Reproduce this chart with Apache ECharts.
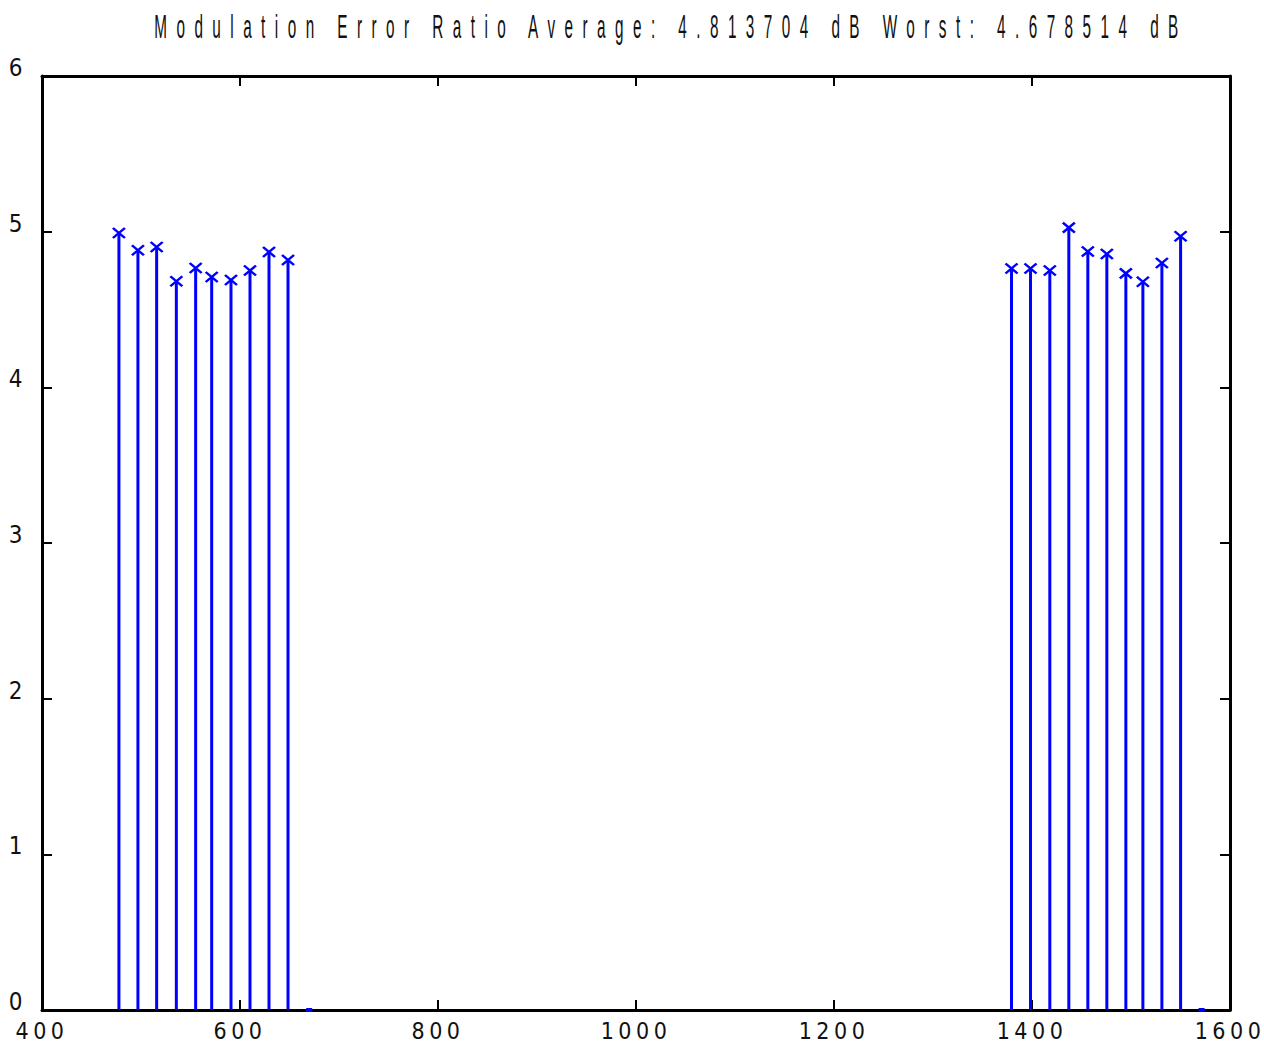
<!DOCTYPE html>
<html>
<head>
<meta charset="utf-8">
<title>Modulation Error Ratio</title>
<script src="https://cdn.jsdelivr.net/npm/echarts@6/dist/echarts.min.js"></script>
<style>
  html, body { margin: 0; padding: 0; background: #ffffff; }
  #chart { width: 1264px; height: 1049px; }
  /* tick labels: condensed, widely tracked digits */
  #chart text[style*="Narrow"] { letter-spacing: 4.5px; }
  /* title: tracked text, horizontally squeezed by the element's scaleX */
  #chart text:not([style*="Narrow"]) { letter-spacing: 21px; }
</style>
</head>
<body>
<div id="chart"></div>
<script>
// Carrier positions (x) and measured MER per carrier in dB (y).
// The last point of each block is an unused carrier at 0 dB.
const carrierX = [
  477.7, 496.9, 515.8, 535.7, 555.2, 571.4, 590.9, 610.1, 629.3, 648.5, 669.9,
  1379.3, 1398.5, 1418.0, 1437.2, 1456.4, 1475.6, 1494.8, 1512.0, 1531.2, 1550.1, 1571.3
];
const merDb = [
  4.992, 4.881, 4.902, 4.681, 4.767, 4.709, 4.690, 4.750, 4.870, 4.818, 0,
  4.764, 4.764, 4.750, 5.026, 4.872, 4.857, 4.732, 4.678514, 4.799, 4.971, 0
];

const xTickValues = [400, 600, 800, 1000, 1200, 1400, 1600];
const yTickValues = [0, 1, 2, 3, 4, 5, 6];

const titleText = 'Modulation Error Ratio Average: 4.813704 dB Worst: 4.678514 dB';

const STEM = '#0000ff';
const INK = '#111111';
const labelFont = "'Liberation Sans Narrow', 'DejaVu Sans Condensed', 'Liberation Sans', sans-serif";
const CROSS = 'path://M0,0L10,10M10,0L0,10';

const points = carrierX.map((x, i) => [x, merDb[i]]);
const markers = points.map(p => p[1] === 0
  ? { value: p, symbol: 'rect', symbolSize: [6, 4], itemStyle: { borderWidth: 0 } }
  : { value: p });

function frameAxis(extra) {
  return Object.assign({
    type: 'value',
    splitLine: { show: false },
    axisLine: { show: true, onZero: false, lineStyle: { color: '#000', width: 3 } },
    axisTick: { show: true, inside: true, length: 10, lineStyle: { color: '#000', width: 2 } }
  }, extra);
}

const plainNumber = v => String(v);

const xMin = xTickValues[0], xMax = xTickValues[xTickValues.length - 1];
const xStep = xTickValues[1] - xTickValues[0];
const yMin = yTickValues[0], yMax = yTickValues[yTickValues.length - 1];
const yStep = yTickValues[1] - yTickValues[0];

const chart = echarts.init(document.getElementById('chart'), null, { renderer: 'svg' });

chart.setOption({
  backgroundColor: '#ffffff',
  animation: false,
  grid: { left: 42, right: 34, top: 76, bottom: 39, containLabel: false },
  xAxis: [
    frameAxis({
      position: 'bottom', min: xMin, max: xMax, interval: xStep,
      axisLabel: {
        color: INK, fontFamily: labelFont, fontSize: 23, margin: 21,
        verticalAlign: 'middle', showMinLabel: true, showMaxLabel: true,
        formatter: plainNumber
      }
    }),
    frameAxis({
      position: 'top', min: xMin, max: xMax, interval: xStep,
      axisLabel: { show: false }
    })
  ],
  yAxis: [
    frameAxis({
      position: 'left', min: yMin, max: yMax, interval: yStep,
      axisLabel: {
        color: INK, fontFamily: labelFont, fontSize: 24, margin: 15,
        verticalAlign: 'bottom', lineHeight: 16,
        formatter: plainNumber
      }
    }),
    frameAxis({
      position: 'right', min: yMin, max: yMax, interval: yStep,
      axisLabel: { show: false }
    })
  ],
  graphic: [{
    type: 'text',
    x: 671,
    y: 26,
    scaleX: 0.45,
    style: {
      text: titleText,
      fontFamily: "'Liberation Sans', Arial, sans-serif",
      fontSize: 34,
      fill: INK,
      textAlign: 'center',
      textVerticalAlign: 'middle',
      align: 'center',
      verticalAlign: 'middle'
    }
  }],
  series: [
    {
      name: 'stems',
      type: 'bar',
      xAxisIndex: 0,
      yAxisIndex: 0,
      barWidth: 3,
      itemStyle: { color: STEM },
      data: points
    },
    {
      name: 'markers',
      type: 'scatter',
      xAxisIndex: 0,
      yAxisIndex: 0,
      symbol: CROSS,
      symbolSize: [12, 10],
      itemStyle: { color: STEM, borderColor: STEM, borderWidth: 2.4, opacity: 1 },
      data: markers
    }
  ]
});
</script>
</body>
</html>
